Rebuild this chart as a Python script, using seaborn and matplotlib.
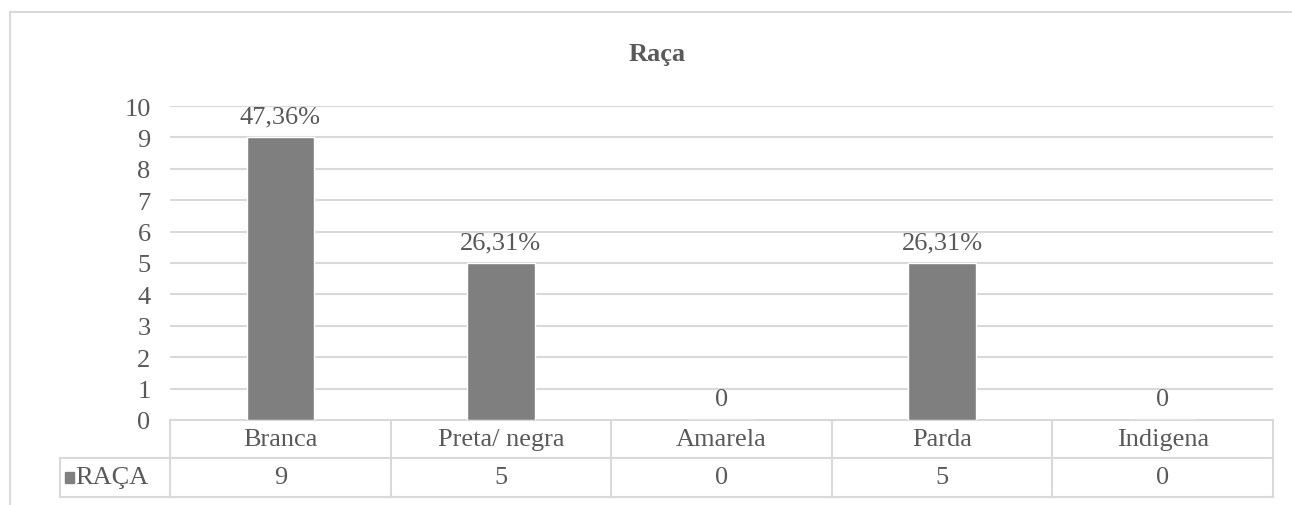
import matplotlib
matplotlib.use("Agg")
import matplotlib.pyplot as plt
import matplotlib.transforms as mtransforms
from matplotlib.lines import Line2D
from matplotlib.patches import Rectangle
import seaborn as sns
import pandas as pd

categories = ["Branca", "Preta/ negra", "Amarela", "Parda", "Indigena"]
values = [9, 5, 0, 5, 0]
bar_labels = ["47,36%", "26,31%", "0", "26,31%", "0"]
series_name = "RAÇA"
title = "Raça"
yticks = list(range(0, 11))

sns.set_theme(style="white")
plt.rcParams["font.family"] = ["Liberation Serif", "DejaVu Serif"]

TXT = "#595959"
GRID = "#d9d9d9"
BAR = "#7f7f7f"
FS = 19

W, H = 1292, 506
fig = plt.figure(figsize=(W / 100, H / 100), dpi=100)
fig.patch.set_facecolor("white")
ax = fig.add_axes([170 / W, 1 - 421 / H, (1273 - 170) / W, (421 - 107) / H])

df = pd.DataFrame({"cat": categories, "val": values})
sns.barplot(data=df, x="cat", y="val", color=BAR, width=0.305, saturation=1, ax=ax, zorder=3)

ax.set_xlim(-0.5, len(categories) - 0.5)
ax.set_ylim(0, 10)
ax.set_yticks(yticks)
ax.set_yticklabels([str(t) for t in yticks], fontsize=FS, color=TXT)
ax.set_xticks([])
ax.set_xlabel("")
ax.set_ylabel("")
ax.tick_params(axis="y", length=0, pad=14)
for s in ax.spines.values():
    s.set_visible(False)
for t in yticks[1:]:
    ax.axhline(t, color=GRID, lw=1.5, zorder=1)

for i, (v, lab) in enumerate(zip(values, bar_labels)):
    ax.annotate(lab, (i, v), xytext=(0, 7), textcoords="offset points",
                ha="center", va="bottom", fontsize=FS, color=TXT)

fig.text(657 / W, 1 - 54 / H, title, ha="center", va="center", fontsize=FS,
         fontweight="bold", color=TXT)

# data table below axis
tr = mtransforms.blended_transform_factory(ax.transData, ax.transAxes)
axh = 421 - 107
r1 = -38 / axh
r2 = -77 / axh
xl = -1.0
n = len(categories)
lines = [
    ([-0.5, n - 0.5], [0, 0]),
    ([xl, n - 0.5], [r1, r1]),
    ([xl, n - 0.5], [r2, r2]),
    ([xl, xl], [r1, r2]),
]
for k in range(n + 1):
    lines.append(([k - 0.5, k - 0.5], [0, r2]))
for xs, ys in lines:
    ax.add_line(Line2D(xs, ys, transform=tr, color=GRID, lw=1.5, clip_on=False, zorder=2))

for i, (c, v) in enumerate(zip(categories, values)):
    ax.text(i, r1 / 2, c, transform=tr, ha="center", va="center", fontsize=FS, color=TXT)
    ax.text(i, (r1 + r2) / 2, str(v), transform=tr, ha="center", va="center", fontsize=FS, color=TXT)

ax.add_patch(Rectangle((-0.975, (r1 + r2) / 2 - 0.017), 0.04, 0.034, transform=tr,
                       color=BAR, clip_on=False))
ax.text(-0.93, (r1 + r2) / 2, series_name, transform=tr, ha="left", va="center",
        fontsize=FS, color=TXT)

# outer chart frame (top and left edges visible)
fig.add_artist(Line2D([10 / W, 10 / W], [0, 1 - 13 / H], transform=fig.transFigure, color=GRID, lw=1.5))
fig.add_artist(Line2D([10 / W, 1], [1 - 13 / H, 1 - 13 / H], transform=fig.transFigure, color=GRID, lw=1.5))

fig.savefig("out.png", dpi=100)
